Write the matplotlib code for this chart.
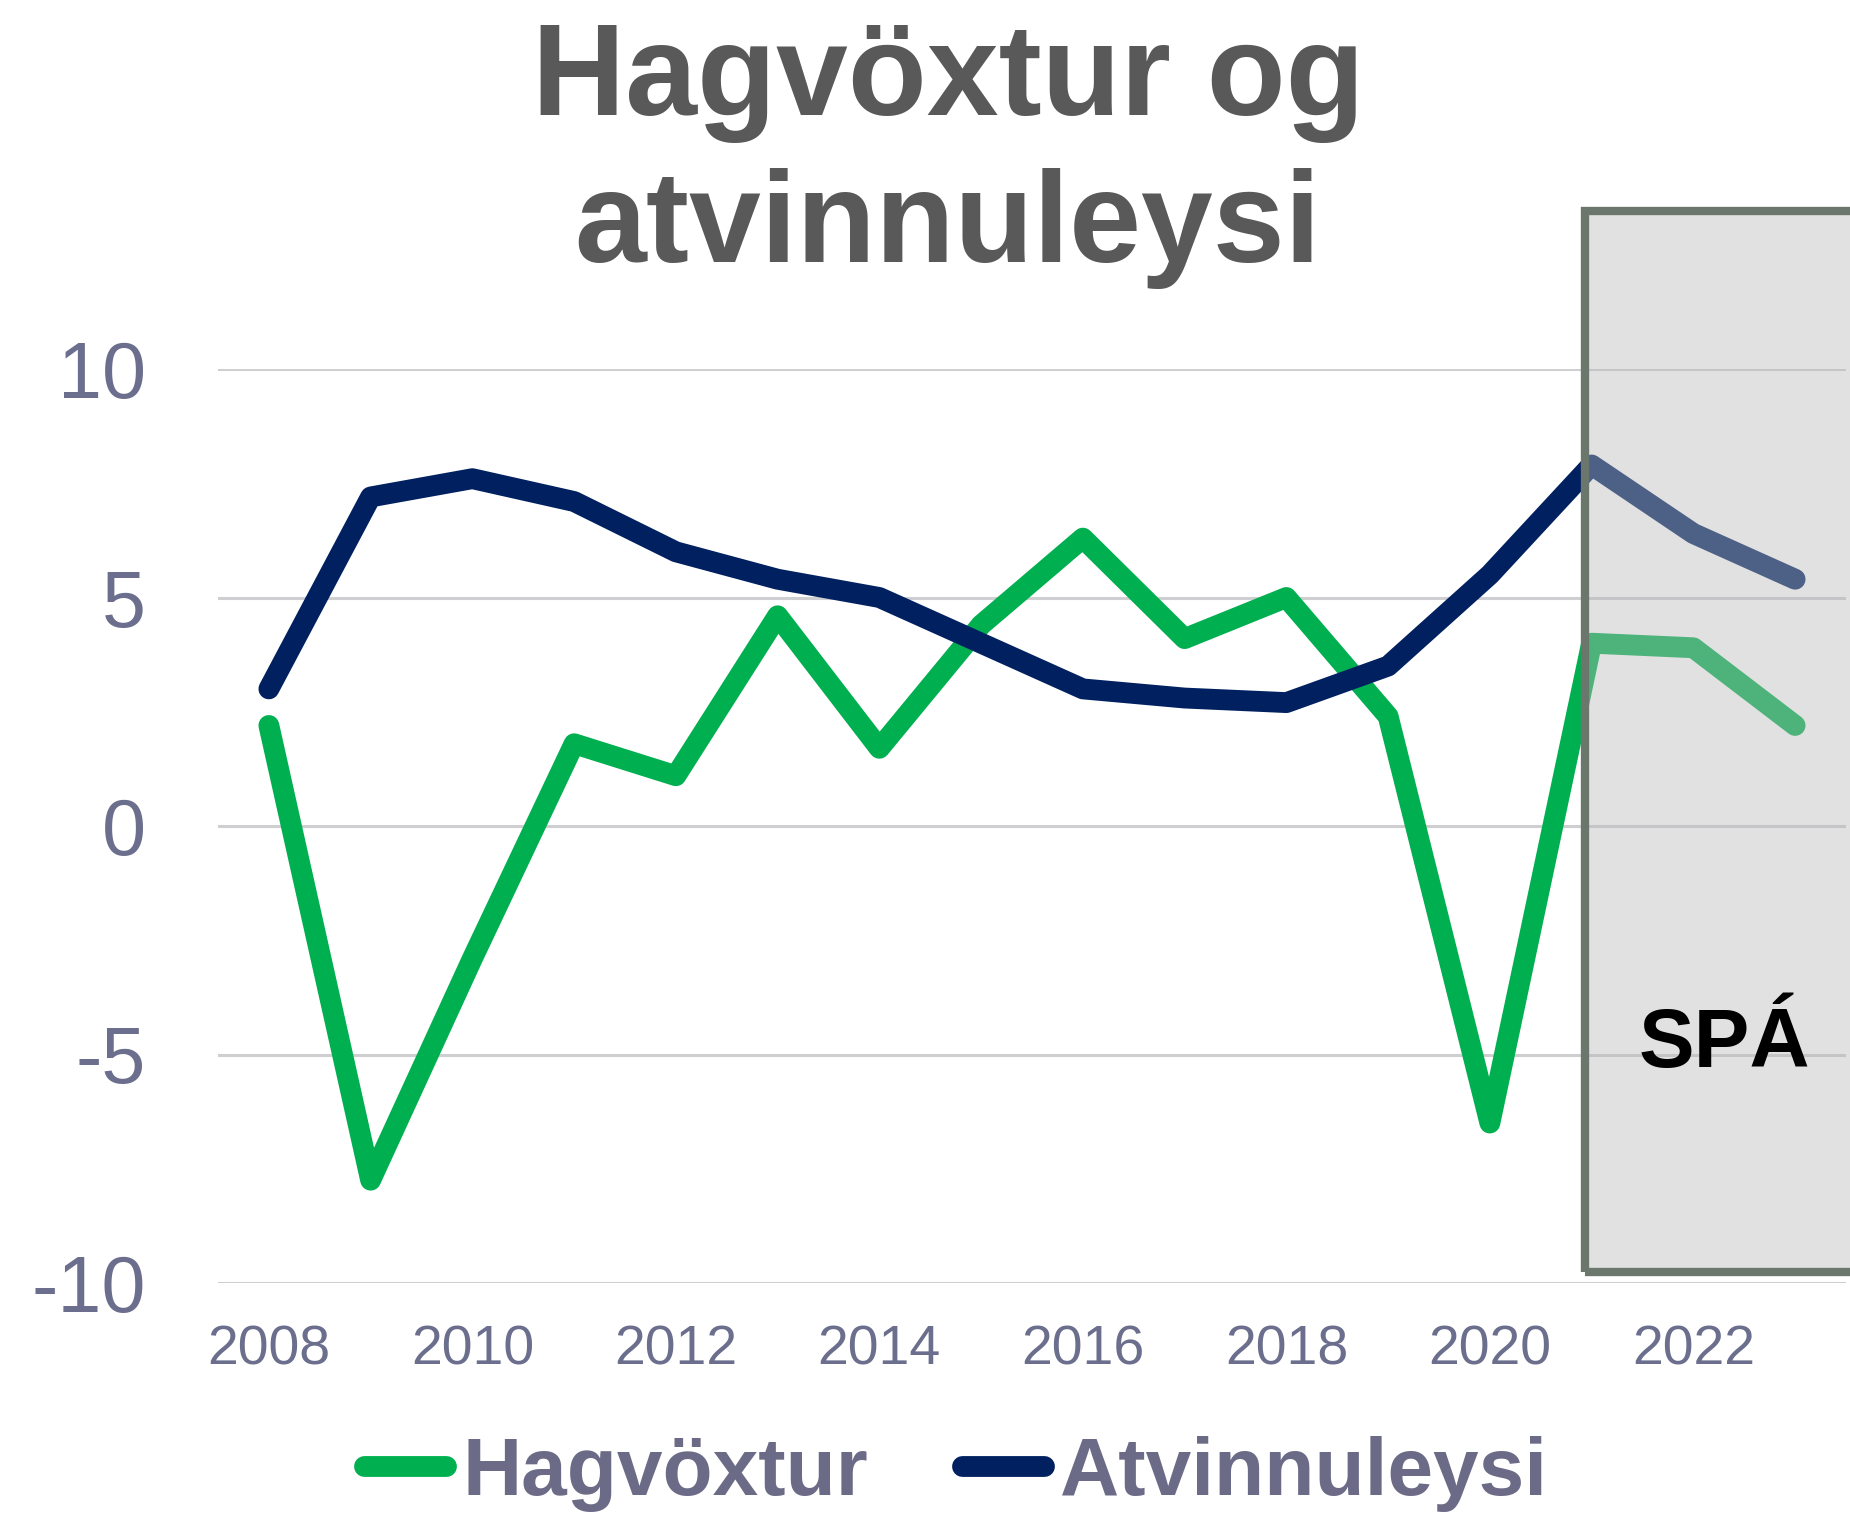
import matplotlib
matplotlib.use("Agg")
import matplotlib.pyplot as plt
from matplotlib.patches import Rectangle

plt.rcParams['font.family'] = ['Liberation Sans', 'DejaVu Sans']

years = list(range(2008, 2024))
hagvoxtur = [2.2, -7.75, -2.9, 1.8, 1.1, 4.6, 1.7, 4.4, 6.3, 4.1, 5.0, 2.4, -6.5, 4.0, 3.9, 2.2]
atvinnuleysi = [3.0, 7.2, 7.6, 7.1, 6.0, 5.4, 5.0, 4.0, 3.0, 2.8, 2.7, 3.5, 5.5, 7.9, 6.4, 5.4]
yticks = [-10, -5, 0, 5, 10]
xticks = [2008, 2010, 2012, 2014, 2016, 2018, 2020, 2022]
forecast_start = 2020.93

W, H = 1850, 1514
fig = plt.figure(figsize=(W / 100, H / 100), dpi=100)
ax = fig.add_axes([218 / W, 1 - 1283 / H, (1846 - 218) / W, (1283 - 369) / H])

green = '#00b050'
navy = '#002060'
tick_col = '#6b6e8c'

ax.plot(years, hagvoxtur, color=green, lw=15, solid_capstyle='round',
        solid_joinstyle='round', label='Hagvöxtur', zorder=3)
ax.plot(years, atvinnuleysi, color=navy, lw=15, solid_capstyle='round',
        solid_joinstyle='round', label='Atvinnuleysi', zorder=3)

ax.set_xlim(2007.5, 2023.5)
ax.set_ylim(-10, 10)
ax.set_yticks(yticks)
ax.set_yticklabels([str(v) for v in yticks])
ax.set_xticks(xticks)
ax.set_xticklabels([str(v) for v in xticks])
ax.grid(axis='y', color='#cfcfd2', lw=2.2, zorder=1)
ax.grid(axis='x', visible=False)
ax.set_axisbelow(True)
for s in ax.spines.values():
    s.set_visible(False)
ax.tick_params(axis='y', length=0, pad=52, labelsize=57, labelcolor=tick_col)
ax.tick_params(axis='x', length=0, pad=30, labelsize=40, labelcolor=tick_col)

# forecast shaded box
box_bottom, box_top = -9.76, 13.45
rect_fill = Rectangle((forecast_start, box_bottom), 5, box_top - box_bottom,
                      facecolor='#b9b9b9', alpha=0.42, edgecolor='none',
                      zorder=4, clip_on=False)
ax.add_patch(rect_fill)
rect_edge = Rectangle((forecast_start, box_bottom), 5, box_top - box_bottom,
                      facecolor='none', edgecolor='#6b776d', lw=6,
                      zorder=5, clip_on=False)
ax.add_patch(rect_edge)
ax.text(2022.3, -5.27, 'SPÁ', fontsize=60, fontweight='bold', color='black',
        ha='center', va='baseline', zorder=6)

# title
fig.text(948 / W, 1 - 115 / H, 'Hagvöxtur og', fontsize=93, fontweight='bold',
         color='#595959', ha='center', va='baseline')
fig.text(948 / W, 1 - 262 / H, 'atvinnuleysi', fontsize=93, fontweight='bold',
         color='#595959', ha='center', va='baseline')

leg = fig.legend(loc='lower center', bbox_to_anchor=(956 / W, -0.02), ncol=2,
                 frameon=False, prop={'size': 59, 'weight': 'bold'},
                 handlelength=1.0, handletextpad=0.2, columnspacing=1.15,
                 borderaxespad=0)
for t in leg.get_texts():
    t.set_color('#6b6b87')
for l in leg.get_lines():
    l.set_linewidth(15)
    l.set_solid_capstyle('round')

fig.savefig('out.png', dpi=100)
